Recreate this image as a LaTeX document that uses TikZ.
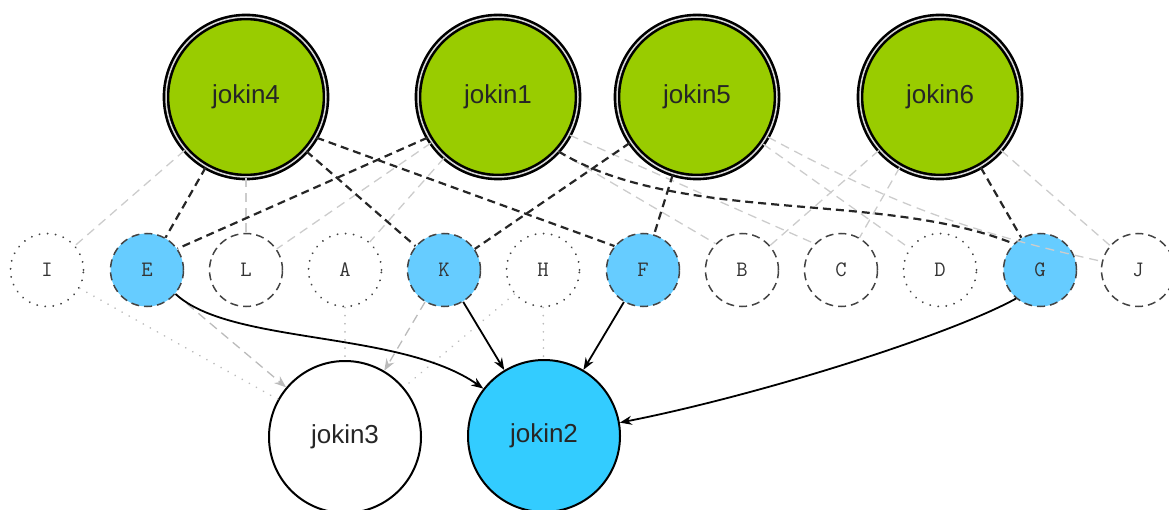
\documentclass[tikz,border=0pt]{standalone}
\usepackage{fontspec}
\setmainfont{Liberation Sans}
\usetikzlibrary{arrows.meta}
\definecolor{jokgreen}{HTML}{99CC00}
\definecolor{lightblue}{HTML}{66CCFF}
\definecolor{deepblue}{HTML}{33CCFF}
\definecolor{rimgray}{HTML}{444444}
\definecolor{faintgray}{HTML}{CCCCCC}
\definecolor{dotgray}{HTML}{BBBBBB}

\begin{document}
\begin{tikzpicture}[x=1pt,y=-1pt,
    topnode/.style={circle,draw=black,line width=2.6pt,double=white!70!gray,
      double distance=1.5pt,fill=jokgreen,minimum size=160pt,inner sep=0pt,
      text=black!85,font=\fontsize{26}{30}\selectfont},
    letter/.style={circle,draw=rimgray,line width=1.5pt,minimum size=73pt,
      inner sep=0pt,text=black!80,font=\ttfamily\fontsize{22}{24}\selectfont},
    dashring/.style={letter,dash pattern=on 8pt off 5pt},
    dotring/.style={letter,line width=2pt,line cap=round,dash pattern=on 0.1pt off 8pt},
    hit/.style={fill=lightblue},
    botnode/.style={circle,draw=black,line width=2pt,minimum size=152pt,
      inner sep=0pt,text=black!85,font=\fontsize{26}{30}\selectfont},
    strong/.style={black!85,line width=2.2pt,dash pattern=on 8pt off 5pt},
    weak/.style={faintgray,line width=1.3pt,dash pattern=on 9pt off 6pt},
    faint/.style={dotgray,line width=1.8pt,line cap=round,dash pattern=on 0.1pt off 8pt},
    pointer/.style={black,line width=1.8pt,-{Stealth[length=12pt,width=9pt]}}]
    \useasboundingbox (0,0) rectangle (1169,510);
    %% Draw the top nodes
    \node[topnode] (jokin4) at (246,97) {jokin4};
    \node[topnode] (jokin1) at (498,97) {jokin1};
    \node[topnode] (jokin5) at (697,97) {jokin5};
    \node[topnode] (jokin6) at (940,97) {jokin6};
    %% Draw the letter row
    \node[dotring] (I) at (47,270) {I};
    \node[dashring,hit] (E) at (147,270) {E};
    \node[dashring] (L) at (246,270) {L};
    \node[dotring] (A) at (345,270) {A};
    \node[dashring,hit] (K) at (444,270) {K};
    \node[dotring] (H) at (543,270) {H};
    \node[dashring,hit] (F) at (643,270) {F};
    \node[dashring] (B) at (742,270) {B};
    \node[dashring] (C) at (841,270) {C};
    \node[dotring] (D) at (940,270) {D};
    \node[dashring,hit] (G) at (1040,270) {G};
    \node[dashring] (J) at (1138,270) {J};
    %% Draw the bottom nodes
    \node[botnode] (jokin3) at (345,437) {jokin3};
    \node[botnode,fill=deepblue] (jokin2) at (544,436) {jokin2};
    %% Draw the light links
    \begin{scope}[every path/.style={weak}]
      \draw (jokin4) -- (I);
      \draw (jokin4) -- (L);
      \draw (jokin1) -- (L);
      \draw (jokin1) -- (A);
      \draw (jokin1.-42) -- (B.135);
      \draw (jokin1.-28) -- (C.135);
      \draw (jokin5) -- (D);
      \draw (jokin5) to[bend right=8] (J);
      \draw (jokin6) -- (B);
      \draw (jokin6) -- (C);
      \draw (jokin6) -- (J);
      \draw[-{Stealth[length=12pt,width=9pt]},dotgray] (E) -- (jokin3);
      \draw[-{Stealth[length=12pt,width=9pt]},dotgray] (K) -- (jokin3);
    \end{scope}
    \begin{scope}[every path/.style={faint}]
      \draw (I) -- (jokin3);
      \draw (A) -- (jokin3);
      \draw (H) -- (jokin3);
      \draw (H) -- (jokin2);
    \end{scope}
    %% Draw the strong links
    \begin{scope}[every path/.style={strong}]
      \draw (jokin4) -- (E);
      \draw (jokin4.-42) -- (K.140);
      \draw (jokin4.-30) -- (F.140);
      \draw (jokin1.210) -- (E.35);
      \draw (jokin1.-42) .. controls (680,225) and (880,190) .. (G.135);
      \draw (jokin5) -- (K);
      \draw (jokin5) -- (F);
      \draw (jokin6) -- (G);
    \end{scope}
    %% Draw the arrows
    \begin{scope}[every path/.style={pointer}]
      \draw (E.-40) .. controls (230,345) and (400,330) .. (jokin2.142);
      \draw (K) -- (jokin2);
      \draw (F) -- (jokin2);
      \draw (G.-130) .. controls (950,335) and (760,395) .. (jokin2.10);
    \end{scope}
  \end{tikzpicture}
\end{document}
